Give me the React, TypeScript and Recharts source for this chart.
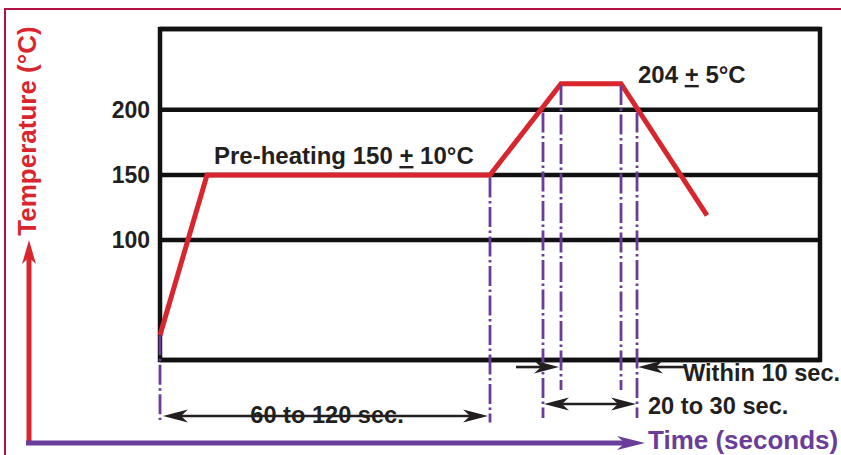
import {
  LineChart,
  Line,
  XAxis,
  YAxis,
  CartesianGrid,
  ReferenceLine,
  ReferenceArea,
  ReferenceDot,
} from 'recharts';

// Reflow profile (time in chart units, temp in °C)
const profileTime = [0, 47, 330, 401, 461, 547];
const profileTemp = [27, 150, 150, 220, 220, 119];
const tempTicks = [100, 150, 200];

// purple dash-dot markers
const markerTime = [0, 330, 383, 401, 461, 477];
const markerTop = [27, 148, 198, 219, 219, 198];
const markerBottom = [-38, -40, -36.5, -15, -15, -36.5];

// black dimension arrows
const spanFrom = [3, 356, 526, 384];
const spanTo = [328, 399, 478, 476];
const spanTemp = [-35, 2.6, 2.6, -25.8];
const spanHeads = ['both', 'end', 'end', 'both'];

// annotations: text parts, the middle part is the underlined "+"
const noteText = [
  ['Pre-heating 150 ', '+', ' 10°C'],
  ['204 ', '+', ' 5°C'],
  ['Within 10 sec.'],
  ['20 to 30 sec.'],
  ['60 to 120 sec.'],
];
const noteTime = [54, 478, 523, 488, 167];
const noteTemp = [158.4, 220.6, -8.1, -33.4, -40.3];
const noteAnchor = ['start', 'start', 'start', 'start', 'middle'];
const noteSize = [24, 24, 23.6, 23.6, 23.6];

const axisTitles = ['Temperature (°C)', 'Time (seconds)'];

const data = profileTime.map((t, i) => ({ t, temp: profileTemp[i] }));

const RED = '#d9262e';
const PURPLE = '#6a3d9a';
const INK = '#231f20';
const FONT = '"Liberation Sans", Arial, sans-serif';

// line with stealth arrow heads, drawn from the reference line's pixel ends
const arrowShape =
  (color: string, width: number, len: number, half: number, heads: string) =>
  (props: any) => {
    const { x1, y1, x2, y2 } = props;
    const dx = x2 - x1;
    const dy = y2 - y1;
    const d = Math.sqrt(dx * dx + dy * dy) || 1;
    const ux = dx / d;
    const uy = dy / d;
    const head = (tx: number, ty: number, sx: number, sy: number) => {
      const bx = tx - sx * len;
      const by = ty - sy * len;
      const nx = tx - sx * len * 0.72;
      const ny = ty - sy * len * 0.72;
      return `M${tx},${ty} L${bx - sy * half},${by + sx * half} L${nx},${ny} L${bx + sy * half},${by - sx * half} Z`;
    };
    const both = heads === 'both';
    const sx = both ? x1 + ux * len * 0.7 : x1;
    const sy = both ? y1 + uy * len * 0.7 : y1;
    const ex = x2 - ux * len * 0.7;
    const ey = y2 - uy * len * 0.7;
    return (
      <g>
        <line x1={sx} y1={sy} x2={ex} y2={ey} stroke={color} strokeWidth={width} />
        <path d={head(x2, y2, ux, uy)} fill={color} />
        {both && <path d={head(x1, y1, -ux, -uy)} fill={color} />}
      </g>
    );
  };

const noteShape =
  (parts: string[], anchor: string, size: number, color: string, rotate = false) =>
  (props: any) => {
    const { cx, cy } = props;
    return (
      <text
        x={cx}
        y={cy}
        textAnchor={anchor}
        fontSize={size}
        fontWeight="bold"
        fontFamily={FONT}
        fill={color}
        style={{ whiteSpace: 'pre' }}
        transform={rotate ? `rotate(-90 ${cx} ${cy})` : undefined}
      >
        {parts.map((p, i) => (
          <tspan key={i} textDecoration={i === 1 ? 'underline' : undefined}>
            {p}
          </tspan>
        ))}
      </text>
    );
  };

export default function App() {
  return (
    <div
      style={{
        position: 'relative',
        width: 841,
        height: 455,
        overflow: 'hidden',
        background: '#fff',
        fontFamily: FONT,
      }}
    >
      <style>{'body{margin:0}'}</style>
      <div
        style={{
          position: 'absolute',
          left: 4,
          top: 8,
          width: 900,
          height: 500,
          border: '2px solid #b4123f',
        }}
      />
      <div style={{ position: 'absolute', left: 0, top: 0 }}>
        <LineChart
          width={841}
          height={455}
          data={data}
          margin={{ top: 29, right: 21, bottom: 95, left: 100 }}
        >
          <XAxis type="number" dataKey="t" domain={[0, 660]} hide />
          <YAxis
            type="number"
            domain={[8, 262]}
            ticks={tempTicks}
            width={60}
            axisLine={false}
            tickLine={false}
            tickMargin={4}
            tick={{ fontSize: 23, fontWeight: 'bold', fill: INK }}
          />
          <CartesianGrid vertical={false} stroke="#111" strokeWidth={4.5} />
          <ReferenceArea
            x1={0}
            x2={660}
            y1={8}
            y2={262}
            fill="none"
            fillOpacity={0}
            stroke="#111"
            strokeWidth={4.5}
            ifOverflow="visible"
          />
          <Line
            type="linear"
            dataKey="temp"
            stroke={RED}
            strokeWidth={5}
            dot={false}
            isAnimationActive={false}
          />
          {markerTime.map((t, i) => (
            <ReferenceLine
              key={`m${i}`}
              segment={[
                { x: t, y: markerTop[i] },
                { x: t, y: markerBottom[i] },
              ]}
              stroke={PURPLE}
              strokeWidth={2.8}
              strokeDasharray="20 3.5 2.5 3.5"
              ifOverflow="visible"
            />
          ))}
          {spanFrom.map((f, i) => (
            <ReferenceLine
              key={`s${i}`}
              segment={[
                { x: f, y: spanTemp[i] },
                { x: spanTo[i], y: spanTemp[i] },
              ]}
              ifOverflow="visible"
              shape={arrowShape(INK, 2.6, 25, 6.5, spanHeads[i])}
            />
          ))}
          <ReferenceLine
            segment={[
              { x: -131, y: -55.7 },
              { x: -131, y: 100 },
            ]}
            ifOverflow="visible"
            shape={arrowShape(RED, 5, 24, 7, 'end')}
          />
          <ReferenceLine
            segment={[
              { x: -134, y: -55.7 },
              { x: 485, y: -55.7 },
            ]}
            ifOverflow="visible"
            shape={arrowShape(PURPLE, 5, 28, 7, 'end')}
          />
          {noteText.map((parts, i) => (
            <ReferenceDot
              key={`n${i}`}
              x={noteTime[i]}
              y={noteTemp[i]}
              r={0}
              ifOverflow="visible"
              shape={noteShape(parts, noteAnchor[i], noteSize[i], INK)}
            />
          ))}
          <ReferenceDot
            x={-124}
            y={183.7}
            r={0}
            ifOverflow="visible"
            shape={noteShape([axisTitles[0]], 'middle', 26, RED, true)}
          />
          <ReferenceDot
            x={488}
            y={-60.3}
            r={0}
            ifOverflow="visible"
            shape={noteShape([axisTitles[1]], 'start', 26, PURPLE)}
          />
        </LineChart>
      </div>
    </div>
  );
}
